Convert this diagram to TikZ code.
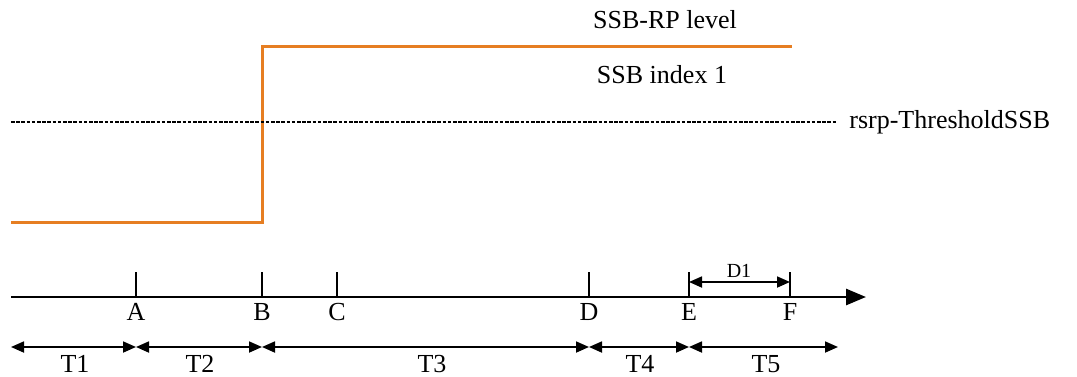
\documentclass[tikz,border=0pt]{standalone}
\usepackage{fontspec}
\setmainfont{Liberation Serif}
\usetikzlibrary{arrows.meta, positioning}
\definecolor{corange}{HTML}{E67E22}
\tikzset{
  every picture/.style={font=\fontsize{13}{15}\selectfont},
  level/.style={draw=corange, line width=1.5pt},
  thresh/.style={dash pattern=on 1.8pt off 0.8pt, line width=1.4pt},
  axis/.style={-{Triangle[length=10pt, width=8pt]}, line width=1.4pt},
  tickmark/.style={line width=1.1pt},
  span/.style={{Triangle[length=6.5pt, width=5.5pt]}-{Triangle[length=6.5pt, width=5.5pt]}, line width=0.9pt},
  lbl/.style={anchor=base, inner sep=0pt},
  small/.style={font=\fontsize{10}{12}\selectfont},
}
\begin{document}
\begin{tikzpicture}[x=0.5pt, y=-0.5pt]
  \useasboundingbox (0,0) rectangle (1077,376);
  % SSB-RP level of SSB index 1
  \coordinate (l0) at (11,222);
  \coordinate (l1) at (262,222);
  \coordinate (l2) at (262,46);
  \coordinate (l3) at (792,46);
  \draw[level] (l0) -- (l1) -- (l2) -- (l3);
  \node[lbl] (rp) at (665,28) {SSB-RP level};
  \node[lbl] (idx) at (662,83) {SSB index 1};
  % threshold
  \coordinate (th0) at (11,122);
  \coordinate (th1) at (836,122);
  \draw[thresh] (th0) -- (th1);
  \node[anchor=west, inner sep=0pt] (thr) at (849,122) {rsrp-ThresholdSSB};
  % time axis
  \coordinate (ax0) at (11,297);
  \coordinate (ax1) at (866,297);
  \draw[axis] (ax0) -- (ax1);
  \foreach \n/\x in {A/136, B/262, C/337, D/589, E/689, F/790} {
    \coordinate (\n) at (\x,297);
    \coordinate (\n top) at (\x,272);
    \draw[tickmark] (\n) -- (\n top);
    \node[lbl] (lab\n) at (\x,320) {\n};
  }
  % D1
  \coordinate (d1a) at (689,282);
  \coordinate (d1b) at (790,282);
  \draw[span] (d1a) -- (d1b);
  \node[lbl, small] (d1) at (739,277) {D1};
  % periods
  \foreach \n/\x in {s0/11, s1/136, s2/262, s3/589, s4/689, s5/838}
    \coordinate (\n) at (\x,347);
  \foreach \a/\b/\t/\x in {s0/s1/T1/75, s1/s2/T2/200, s2/s3/T3/432, s3/s4/T4/640, s4/s5/T5/766} {
    \draw[span] (\a) -- (\b);
    \node[lbl] (\t) at (\x,372) {\t};
  }
\end{tikzpicture}
\end{document}
